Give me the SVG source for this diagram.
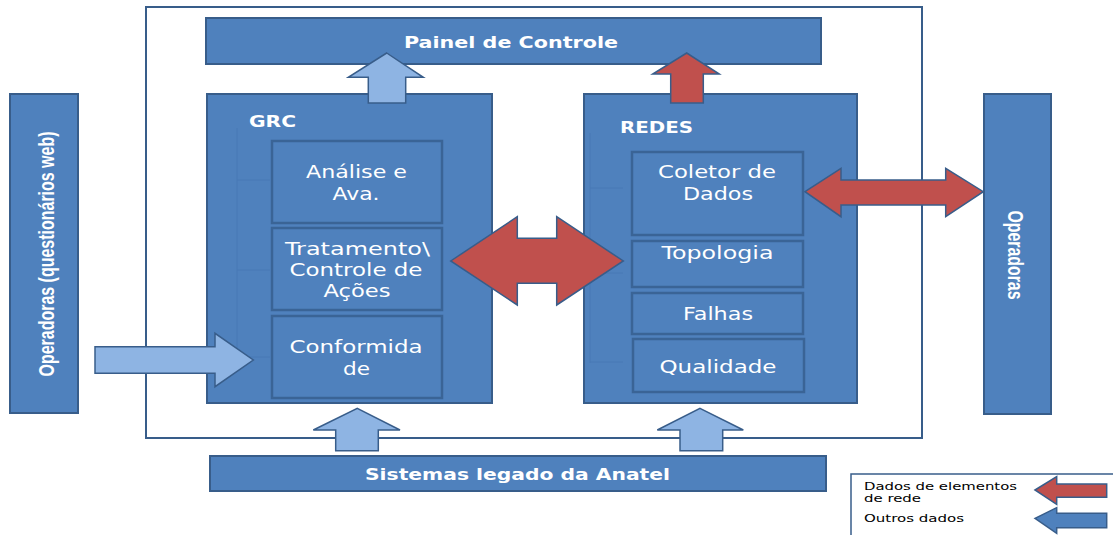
<svg xmlns="http://www.w3.org/2000/svg" width="1113" height="535" viewBox="0 0 1113 535">
<style>
.frame{fill:none;stroke:#385d8a;stroke-width:2}
.box{fill:#4f81bd;stroke:#385d8a;stroke-width:2}
.sub{fill:#4f81bd;stroke:#3a6496;stroke-width:2.5}
.ab{fill:#8eb4e3;stroke:#385d8a;stroke-width:1.5;stroke-linejoin:miter}
.ar{fill:#c0504d;stroke:#385d8a;stroke-width:1.5}
.am{fill:#4f81bd;stroke:#385d8a;stroke-width:1.5}
.faint{fill:none;stroke:#4879b5;stroke-width:1}
.t{font-family:"DejaVu Sans",sans-serif;font-size:17px;fill:#fff;text-anchor:middle}
.tb{font-family:"DejaVu Sans",sans-serif;font-weight:bold;font-size:16px;fill:#fff}
.tv{font-family:"Liberation Sans",Arial,sans-serif;font-weight:bold;font-size:22.5px;fill:#fff;text-anchor:middle}
.tl{font-family:"DejaVu Sans",sans-serif;font-size:11px;fill:#000}
</style>
<rect width="1113" height="535" fill="#fff"/>
<g id="frame"><rect class="frame" x="146" y="7" width="776" height="431"/></g>
<g id="painel">
<rect class="box" x="206" y="18" width="615" height="46"/>
<text class="tb" x="511" y="48" text-anchor="middle" font-size="17" textLength="214" lengthAdjust="spacingAndGlyphs">Painel de Controle</text>
</g>
<g id="operadoras-web">
<rect class="box" x="10" y="94" width="68" height="319"/>
<text class="tv" transform="translate(53.5,254) rotate(-90)" textLength="245" lengthAdjust="spacingAndGlyphs">Operadoras (questionários web)</text>
</g>
<g id="operadoras">
<rect class="box" x="984" y="94" width="67" height="320"/>
<text class="tv" transform="translate(1008,255) rotate(90)" textLength="89" lengthAdjust="spacingAndGlyphs">Operadoras</text>
</g>
<g id="grc">
<rect class="box" x="207" y="94" width="285" height="309"/>
<text class="tb" x="249" y="127" textLength="47" lengthAdjust="spacingAndGlyphs">GRC</text>
</g>
<g id="redes">
<rect class="box" x="584" y="94" width="273" height="309"/>
<text class="tb" x="620" y="133" textLength="73" lengthAdjust="spacingAndGlyphs">REDES</text>
</g>
<g id="connectors">
<path class="faint" d="M237,128V357M237,180H270M237,270H270M237,357H270M590,133V363M590,188H623M590,273H623M590,362H623"/>
<polygon class="ab" points="386.7,53 423.3,77.3 405.7,77.3 405.7,103 368.3,103 368.3,77.3 348.3,77.3"/>
<polygon class="ar" points="686.7,53 719.3,74 703.3,74 703.3,103 670.7,103 670.7,74 652.7,74"/>
<polygon class="ab" points="357.3,408.3 400,430 378.3,430 378.3,450.7 335.7,450.7 335.7,430 313.3,430"/>
<polygon class="ab" points="700,408.3 743.3,430 722.7,430 722.7,450.7 680,450.7 680,430 657.3,430"/>
<polygon class="ab" points="95,346.7 215,346.7 215,333.3 253.3,360 215,386.7 215,373.3 95,373.3"/>
<polygon class="ar" points="450.7,261 517.3,216.7 517.3,238.3 556.7,238.3 556.7,216.7 623.3,261 556.7,305 556.7,283.3 517.3,283.3 517.3,305"/>
<polygon class="ar" points="805,191.7 841,168.3 841,180 945.7,180 945.7,168.3 983.3,191.7 945.7,216.7 945.7,205 841,205 841,216.7"/>
</g>
<g id="analise">
<rect class="sub" x="272" y="141" width="170" height="82"/>
<text class="t" x="356.5" y="178" textLength="101" lengthAdjust="spacingAndGlyphs">Análise e</text>
<text class="t" x="356" y="200" textLength="47" lengthAdjust="spacingAndGlyphs">Ava.</text>
</g>
<g id="tratamento">
<rect class="sub" x="272" y="228" width="170" height="82"/>
<text class="t" x="357.5" y="255" textLength="145" lengthAdjust="spacingAndGlyphs">Tratamento\</text>
<text class="t" x="356" y="276" textLength="133" lengthAdjust="spacingAndGlyphs">Controle de</text>
<text class="t" x="357" y="297" textLength="67" lengthAdjust="spacingAndGlyphs">Ações</text>
</g>
<g id="conformidade">
<rect class="sub" x="272" y="316" width="170" height="82"/>
<text class="t" x="356" y="353" textLength="133" lengthAdjust="spacingAndGlyphs">Conformida</text>
<text class="t" x="356.5" y="375" textLength="27" lengthAdjust="spacingAndGlyphs">de</text>
</g>
<g id="coletor">
<rect class="sub" x="632" y="152" width="171" height="83"/>
<text class="t" x="717" y="178" textLength="118" lengthAdjust="spacingAndGlyphs">Coletor de</text>
<text class="t" x="718" y="200" textLength="70" lengthAdjust="spacingAndGlyphs">Dados</text>
</g>
<g id="topologia">
<rect class="sub" x="632" y="241" width="171" height="46"/>
<text class="t" x="717.5" y="259" textLength="112" lengthAdjust="spacingAndGlyphs">Topologia</text>
</g>
<g id="falhas">
<rect class="sub" x="632" y="293" width="171" height="41"/>
<text class="t" x="718" y="320" textLength="70" lengthAdjust="spacingAndGlyphs">Falhas</text>
</g>
<g id="qualidade">
<rect class="sub" x="633" y="339" width="171" height="53"/>
<text class="t" x="718" y="372.5" textLength="117" lengthAdjust="spacingAndGlyphs">Qualidade</text>
</g>
<g id="sistemas">
<rect class="box" x="210" y="456" width="616" height="35"/>
<text class="tb" x="517.5" y="480" text-anchor="middle" font-size="17" textLength="305" lengthAdjust="spacingAndGlyphs">Sistemas legado da Anatel</text>
</g>
<g id="legenda">
<rect x="851" y="474" width="275" height="75" fill="#fff" stroke="#385d8a" stroke-width="1.5"/>
<text class="tl" x="864" y="490" textLength="153" lengthAdjust="spacingAndGlyphs">Dados de elementos</text>
<text class="tl" x="864" y="502" textLength="57" lengthAdjust="spacingAndGlyphs">de rede</text>
<text class="tl" x="864" y="522" textLength="100" lengthAdjust="spacingAndGlyphs">Outros dados</text>
<polygon class="ar" points="1035,490 1056.7,476.7 1056.7,484 1106.7,484 1106.7,497.3 1056.7,497.3 1056.7,504.3"/>
<polygon class="am" points="1035,518.3 1056.7,507.7 1056.7,513.3 1106.7,513.3 1106.7,527.7 1056.7,527.7 1056.7,533.3"/>
</g>
</svg>
